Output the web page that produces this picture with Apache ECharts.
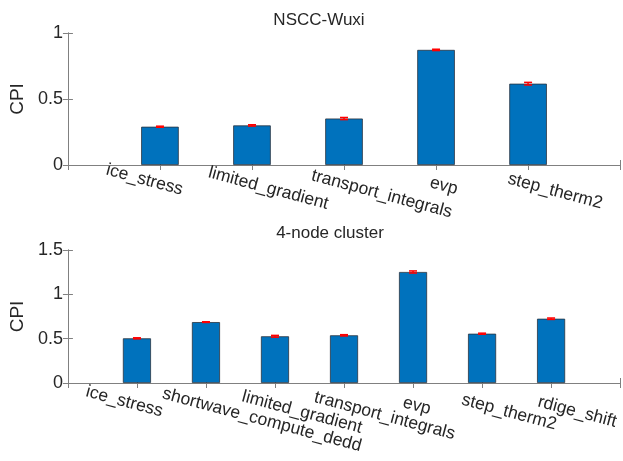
<!DOCTYPE html>
<html>
<head>
<meta charset="utf-8">
<script src="https://cdn.jsdelivr.net/npm/echarts@6/dist/echarts.min.js"></script>
<style>
html,body{margin:0;padding:0;background:#fff;}
#chart{width:623px;height:461px;}
</style>
</head>
<body>
<div id="chart"></div>
<script>
// ---- data ----
const topTitle = 'NSCC-Wuxi';
const bottomTitle = '4-node cluster';
const yName = 'CPI';
const topCats = ['ice_stress', 'limited_gradient', 'transport_integrals', 'evp', 'step_therm2'];
const topCPI = [0.290, 0.300, 0.352, 0.872, 0.616];
const topErr = [0.004, 0.005, 0.008, 0.005, 0.010];
const bottomCats = ['ice_stress', 'shortwave_compute_dedd', 'limited_gradient', 'transport_integrals', 'evp', 'step_therm2', 'rdige_shift'];
const bottomCPI = [0.504, 0.687, 0.527, 0.538, 1.252, 0.556, 0.725];
const bottomErr = [0.006, 0.004, 0.010, 0.007, 0.012, 0.006, 0.008];
const topYMax = 1;
const bottomYMax = 1.5;

// ---- layout / style ----
const FONT = "'Liberation Sans', Arial, Helvetica, sans-serif";
const AXIS_COLOR = '#808080';
const TEXT_COLOR = '#262626';
const BAR_COLOR = '#0072BD';
const ERR_COLOR = '#ff0000';
const topGrid = {left: 62, top: 33, width: 564, height: 132};
const bottomGrid = {left: 62, top: 250, width: 562, height: 133};
// label nudges along the rotated text direction (px), layout only
const topNudge = [-16, 17, 39, 8, 28];
const bottomNudge = [-13, 58, 28, 42, 4, 28, 27];

function pairs(vals) { return vals.map((v, i) => [i + 1, v]); }
function triples(vals, errs) { return vals.map((v, i) => [i + 1, v, errs[i]]); }

function richFor(nudges) {
  const r = {};
  nudges.forEach((d, i) => {
    r['n' + i] = {
      fontSize: 17.5, fontFamily: FONT, color: TEXT_COLOR,
      padding: d >= 0 ? [0, 0, 0, 2 * d] : [0, -2 * d, 0, 0]
    };
  });
  return r;
}

function xAxes(gridIndex, cats, nudges, margin) {
  const n = cats.length + 1;
  return [{
    type: 'value', gridIndex: gridIndex, min: 0, max: n, interval: 1,
    position: 'bottom',
    axisLine: {show: true, lineStyle: {color: AXIS_COLOR, width: 1}},
    axisTick: {show: true, inside: true, length: 5, lineStyle: {color: AXIS_COLOR}},
    splitLine: {show: false},
    axisLabel: {
      show: true, rotate: -15, align: 'center', verticalAlign: 'middle', margin: margin,
      fontSize: 17.5, fontFamily: FONT, color: TEXT_COLOR,
      showMinLabel: true, showMaxLabel: true, hideOverlap: false,
      formatter: function (v) {
        const i = Math.round(v) - 1;
        if (i < 0 || i >= cats.length) return '';
        return '{n' + i + '|' + cats[i] + '}';
      },
      rich: richFor(nudges)
    }
  }, {
    type: 'value', gridIndex: gridIndex, min: 0, max: n, interval: 1,
    position: 'top',
    axisLine: {show: true, lineStyle: {color: AXIS_COLOR, width: 1}},
    axisTick: {show: true, inside: true, length: 5, lineStyle: {color: AXIS_COLOR}},
    splitLine: {show: false},
    axisLabel: {show: false}
  }];
}

function yAxes(gridIndex, max) {
  return [{
    type: 'value', gridIndex: gridIndex, min: 0, max: max, interval: 0.5,
    position: 'left',
    name: yName, nameLocation: 'middle', nameRotate: 90, nameGap: 40,
    nameTextStyle: {fontSize: 19, fontFamily: FONT, color: TEXT_COLOR},
    axisLine: {show: true, lineStyle: {color: AXIS_COLOR, width: 1}},
    axisTick: {show: true, inside: true, length: 5, lineStyle: {color: AXIS_COLOR}},
    splitLine: {show: false},
    axisLabel: {fontSize: 18, fontFamily: FONT, color: TEXT_COLOR, margin: 5}
  }, {
    type: 'value', gridIndex: gridIndex, min: 0, max: max, interval: 0.5,
    position: 'right',
    axisLine: {show: true, lineStyle: {color: AXIS_COLOR, width: 1}},
    axisTick: {show: true, inside: true, length: 5, lineStyle: {color: AXIS_COLOR}},
    splitLine: {show: false},
    axisLabel: {show: false}
  }];
}

function errorRender(params, api) {
  const x = api.value(0), v = api.value(1), e = api.value(2);
  const lo = api.coord([x, v - e]);
  const hi = api.coord([x, v + e]);
  const hw = 4;
  const style = {stroke: ERR_COLOR, lineWidth: 1.5, fill: null};
  return {
    type: 'group',
    children: [
      {type: 'line', shape: {x1: lo[0], y1: lo[1], x2: hi[0], y2: hi[1]}, style: style},
      {type: 'line', shape: {x1: lo[0] - hw, y1: lo[1], x2: lo[0] + hw, y2: lo[1]}, style: style},
      {type: 'line', shape: {x1: hi[0] - hw, y1: hi[1], x2: hi[0] + hw, y2: hi[1]}, style: style}
    ]
  };
}

const topBarW = topGrid.width / (topCats.length + 1) * 0.4;
const bottomBarW = bottomGrid.width / (bottomCats.length + 1) * 0.4;

const chart = echarts.init(document.getElementById('chart'), null, {renderer: 'canvas'});
chart.setOption({
  backgroundColor: '#ffffff',
  animation: false,
  textStyle: {fontFamily: FONT},
  title: [
    {text: topTitle, left: 319, top: 12, textAlign: 'center', padding: 0,
     textStyle: {fontSize: 17, fontWeight: 'normal', fontFamily: FONT, color: TEXT_COLOR}},
    {text: bottomTitle, left: 330, top: 225, textAlign: 'center', padding: 0,
     textStyle: {fontSize: 17, fontWeight: 'normal', fontFamily: FONT, color: TEXT_COLOR}}
  ],
  grid: [
    Object.assign({containLabel: false}, topGrid),
    Object.assign({containLabel: false}, bottomGrid)
  ],
  xAxis: xAxes(0, topCats, topNudge, 19).concat(xAxes(1, bottomCats, bottomNudge, 22)),
  yAxis: yAxes(0, topYMax).concat(yAxes(1, bottomYMax)),
  series: [
    {type: 'bar', xAxisIndex: 0, yAxisIndex: 0, data: pairs(topCPI), barWidth: topBarW,
     itemStyle: {color: BAR_COLOR, borderColor: '#2a3440', borderWidth: 0.8}},
    {type: 'custom', xAxisIndex: 0, yAxisIndex: 0, data: triples(topCPI, topErr),
     renderItem: errorRender, encode: {x: 0, y: 1}, z: 5},
    {type: 'bar', xAxisIndex: 2, yAxisIndex: 2, data: pairs(bottomCPI), barWidth: bottomBarW,
     itemStyle: {color: BAR_COLOR, borderColor: '#2a3440', borderWidth: 0.8}},
    {type: 'custom', xAxisIndex: 2, yAxisIndex: 2, data: triples(bottomCPI, bottomErr),
     renderItem: errorRender, encode: {x: 0, y: 1}, z: 5}
  ]
});
</script>
</body>
</html>
